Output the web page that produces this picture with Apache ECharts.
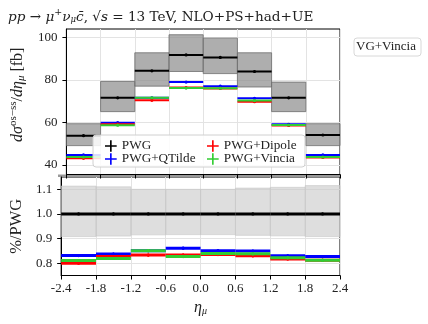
<!DOCTYPE html>
<html>
<head>
<meta charset="utf-8">
<script src="https://cdn.jsdelivr.net/npm/echarts@6/dist/echarts.min.js"></script>
<style>
    html, body { margin: 0; padding: 0; background: #fff; }
    #main { width: 428px; height: 324px; }
</style>
</head>
<body>
<div id="main"></div>
<script type="text/javascript">
    // bin edges in eta_mu
    var edges = [-2.4, -1.8, -1.2, -0.6, 0.0, 0.6, 1.2, 1.8, 2.4];
    var xTicks = [-2.4, -1.8, -1.2, -0.6, 0.0, 0.6, 1.2, 1.8, 2.4];
    var yTicksTop = [40, 60, 80, 100];
    var yTicksRatio = [0.8, 0.9, 1.0, 1.1];

    // top panel, fb
    var pwg     = [53.8, 71.6, 84.3, 91.8, 90.6, 84.0, 71.6, 54.1];
    var pwgUp   = [59.4, 79.3, 92.8, 101.3, 99.7, 92.8, 79.0, 59.4];
    var pwgDn   = [49.1, 65.1, 77.1, 84.0, 83.0, 76.7, 65.1, 49.1];
    var qtilde  = [44.7, 59.9, 71.6, 79.0, 77.1, 71.4, 59.1, 44.7];
    var dipole  = [43.1, 59.2, 70.4, 76.4, 76.0, 69.8, 58.6, 43.5];
    var vincia  = [43.7, 58.7, 71.6, 76.2, 76.1, 70.3, 58.8, 43.7];

    // ratio panel
    var rUp     = [1.113, 1.110, 1.100, 1.100, 1.100, 1.105, 1.108, 1.115];
    var rDn     = [0.908, 0.910, 0.915, 0.916, 0.916, 0.913, 0.911, 0.908];
    var rPwg    = [1, 1, 1, 1, 1, 1, 1, 1];
    var rQtilde = [0.831, 0.837, 0.851, 0.861, 0.851, 0.849, 0.830, 0.827];
    var rDipole = [0.800, 0.827, 0.833, 0.833, 0.835, 0.830, 0.817, 0.812];
    var rVincia = [0.811, 0.819, 0.851, 0.827, 0.839, 0.838, 0.822, 0.812];

    var SERIF = '"Liberation Serif", "DejaVu Serif", serif';
    var WIDE = '"DejaVu Serif", serif';

    function binData(vals, lo, hi) {
        return vals.map(function (v, i) {
            return [edges[i], edges[i + 1], v, lo ? lo[i] : v, hi ? hi[i] : v];
        });
    }

    function stepSeries(name, vals, color, width, xi, err, z) {
        return {
            name: name,
            type: 'custom',
            xAxisIndex: xi, yAxisIndex: xi,
            z: z,
            itemStyle: { color: color },
            encode: { x: [0, 1], y: 2 },
            data: binData(vals),
            renderItem: function (params, api) {
                var y = api.value(2);
                var p0 = api.coord([api.value(0), y]);
                var p1 = api.coord([api.value(1), y]);
                var xc = (api.value(0) + api.value(1)) / 2;
                var e0 = api.coord([xc, y - err]);
                var e1 = api.coord([xc, y + err]);
                return {
                    type: 'group',
                    children: [
                        { type: 'line', shape: { x1: p0[0], y1: p0[1], x2: p1[0], y2: p1[1] },
                          style: { stroke: color, lineWidth: width } },
                        { type: 'line', shape: { x1: e0[0], y1: e0[1], x2: e1[0], y2: e1[1] },
                          style: { stroke: color, lineWidth: 1.5 } },
                        { type: 'circle', shape: { cx: (p0[0] + p1[0]) / 2, cy: p0[1], r: 1.6 },
                          style: { fill: color } }
                    ]
                };
            }
        };
    }

    function bandSeries(lo, hi, mid, xi, fill, stroke) {
        return {
            name: 'band' + xi,
            type: 'custom',
            xAxisIndex: xi, yAxisIndex: xi,
            z: 1,
            silent: true,
            encode: { x: [0, 1], y: [3, 4] },
            data: binData(mid, lo, hi),
            renderItem: function (params, api) {
                var a = api.coord([api.value(0), api.value(4)]);
                var b = api.coord([api.value(1), api.value(3)]);
                return {
                    type: 'rect',
                    shape: { x: a[0], y: a[1], width: b[0] - a[0], height: b[1] - a[1] },
                    style: { fill: fill, stroke: stroke, lineWidth: 1 }
                };
            }
        };
    }

    var plusIcon = 'path://M4.3,0H5.7V4.3H10V5.7H5.7V10H4.3V5.7H0V4.3H4.3Z';

    var myChart = echarts.init(document.getElementById('main'), null, { renderer: 'canvas' });

    var axisCommon = {
        type: 'value',
        axisLine: { show: true, onZero: false, lineStyle: { color: '#000', width: 1 } },
        axisTick: { show: true, length: 4, lineStyle: { color: '#000' } },
        splitLine: { show: true, lineStyle: { color: '#e3e3e3', width: 1 } }
    };

    var legendText = { fontFamily: SERIF, fontSize: 13.2, color: '#222', lineHeight: 11.7 };

    option = {
        animation: false,
        backgroundColor: '#fff',
        grid: [
            { left: 58, top: 29, width: 282, height: 145.5, show: true, borderColor: '#000', borderWidth: 1, backgroundColor: 'transparent' },
            { left: 58, top: 177, width: 282, height: 98.5, show: true, borderColor: '#000', borderWidth: 1, backgroundColor: 'transparent' }
        ],
        xAxis: [
            Object.assign({}, axisCommon, {
                gridIndex: 0, min: -2.4, max: 2.4,
                axisTick: { show: true, length: 4, lineStyle: { color: '#000' }, customValues: xTicks },
                axisLabel: { show: false, customValues: xTicks }
            }),
            Object.assign({}, axisCommon, {
                gridIndex: 1, min: -2.4, max: 2.4,
                axisTick: { show: true, length: 4, lineStyle: { color: '#000' }, customValues: xTicks },
                axisLabel: { customValues: xTicks, margin: 7, color: '#222', fontFamily: SERIF, fontSize: 13,
                    formatter: function (v) { return v.toFixed(1); } },
                name: '{it|η}{sub|μ}',
                nameLocation: 'middle',
                nameGap: 23,
                nameTextStyle: {
                    rich: {
                        it: { fontFamily: SERIF, fontStyle: 'italic', fontSize: 16, color: '#222' },
                        sub: { fontFamily: SERIF, fontStyle: 'italic', fontSize: 10, color: '#222', padding: [8, 0, 0, 0] }
                    }
                }
            })
        ],
        yAxis: [
            Object.assign({}, axisCommon, {
                gridIndex: 0, min: 35.5, max: 104,
                axisTick: { show: true, length: 4, lineStyle: { color: '#000' }, customValues: yTicksTop },
                axisLabel: { customValues: yTicksTop, margin: 9, color: '#222', fontFamily: SERIF, fontSize: 13 },
                name: '{it|dσ}{sup|os−ss}{n|/}{it|dη}{sub|μ}{n| [fb]}',
                nameLocation: 'middle',
                nameRotate: 90,
                nameGap: 34,
                nameTextStyle: {
                    padding: [0, 0, 0, 14],
                    rich: {
                        it: { fontFamily: SERIF, fontStyle: 'italic', fontSize: 16, color: '#222' },
                        n: { fontFamily: SERIF, fontSize: 16, color: '#222' },
                        sup: { fontFamily: SERIF, fontSize: 11, color: '#222', padding: [0, 0, 9, 0] },
                        sub: { fontFamily: SERIF, fontStyle: 'italic', fontSize: 11, color: '#222', padding: [7, 0, 0, 0] }
                    }
                }
            }),
            Object.assign({}, axisCommon, {
                gridIndex: 1, min: 0.75, max: 1.15,
                axisTick: { show: true, length: 4, lineStyle: { color: '#000' }, customValues: yTicksRatio },
                axisLabel: { customValues: yTicksRatio, margin: 9, color: '#222', fontFamily: SERIF, fontSize: 13,
                    formatter: function (v) { return v.toFixed(1); } },
                name: '%/PWG',
                nameLocation: 'middle',
                nameRotate: 90,
                nameGap: 34,
                nameTextStyle: { fontFamily: SERIF, fontSize: 16.5, color: '#222' }
            })
        ],
        legend: [
            {
                orient: 'vertical', left: 105, top: 139.5, z: 20, padding: 0,
                itemWidth: 12, itemHeight: 11.7, itemGap: 0,
                icon: plusIcon,
                data: ['PWG', 'PWG+QTilde'],
                textStyle: legendText
            },
            {
                orient: 'vertical', left: 207, top: 139.5, z: 20, padding: 0,
                itemWidth: 12, itemHeight: 11.7, itemGap: 0,
                icon: plusIcon,
                data: ['PWG+Dipole', 'PWG+Vincia'],
                textStyle: legendText
            }
        ],
        graphic: [
            {
                type: 'text', left: 8, top: 8,
                style: {
                    text: '{it|pp}{n| → }{it|μ}{sup|+}{it|ν}{sub|μ}{it|c̄}{n|, √}{it|s}{n| = 13 TeV, NLO+PS+had+UE}',
                    rich: {
                        it: { fontFamily: WIDE, fontStyle: 'italic', fontSize: 13.6, fill: '#222' },
                        n: { fontFamily: WIDE, fontSize: 13.6, fill: '#222' },
                        sup: { fontFamily: WIDE, fontSize: 9.5, fill: '#222', padding: [0, 0, 8, 0] },
                        sub: { fontFamily: WIDE, fontStyle: 'italic', fontSize: 8.5, fill: '#222', padding: [6, 0, 0, 0] }
                    }
                }
            },
            {
                type: 'rect', z: 15,
                shape: { x: 93, y: 135, width: 212, height: 32, r: 3 },
                style: { fill: 'rgba(255,255,255,0.85)', stroke: '#d0d0d0', lineWidth: 1 }
            },
            {
                type: 'rect', z: 15,
                shape: { x: 354, y: 38, width: 67, height: 18, r: 3 },
                style: { fill: '#fff', stroke: '#d8d8d8', lineWidth: 1 }
            },
            {
                type: 'text', z: 16, left: 356, top: 40,
                style: { text: 'VG+Vincia', fontFamily: SERIF, fontSize: 13, fill: '#222' }
            },
            {
                type: 'rect', z: 0,
                shape: { x: 58, y: 174.5, width: 282, height: 2.5 },
                style: { fill: '#999' }
            }
        ],
        series: [
            bandSeries(pwgDn, pwgUp, pwg, 0, 'rgba(140,140,140,0.7)', 'rgba(110,110,110,0.8)'),
            stepSeries('PWG', pwg, '#000000', 2, 0, 0.4, 5),
            stepSeries('PWG+QTilde', qtilde, '#0000ff', 2, 0, 0.4, 6),
            stepSeries('PWG+Dipole', dipole, '#ff0000', 2, 0, 0.4, 7),
            stepSeries('PWG+Vincia', vincia, '#32cd32', 2, 0, 0.4, 8),
            bandSeries(rDn, rUp, rPwg, 1, 'rgba(200,200,200,0.6)', 'rgba(200,200,200,0.6)'),
            stepSeries('PWG', rPwg, '#000000', 3, 1, 0.004, 5),
            stepSeries('PWG+QTilde', rQtilde, '#0000ff', 3, 1, 0.006, 6),
            stepSeries('PWG+Dipole', rDipole, '#ff0000', 3, 1, 0.006, 7),
            stepSeries('PWG+Vincia', rVincia, '#32cd32', 3, 1, 0.006, 8)
        ]
    };
    myChart.setOption(option);
</script>
</body>
</html>
